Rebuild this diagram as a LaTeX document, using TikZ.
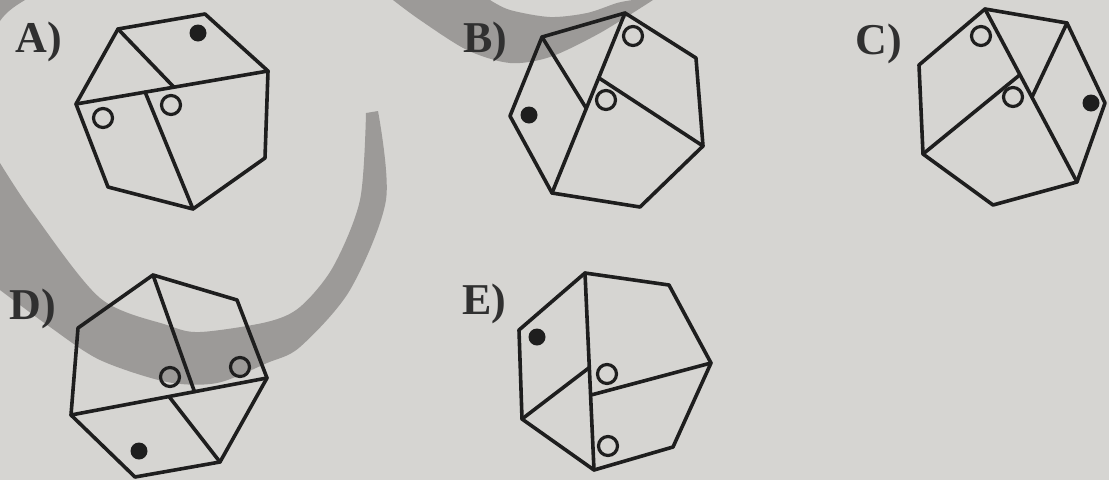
\documentclass[tikz,border=0pt]{standalone}
\usepackage{fontspec}
\setmainfont{Liberation Serif}
\usetikzlibrary{calc}
\definecolor{bg}{HTML}{D6D5D2}
\definecolor{band}{HTML}{9C9A98}
\definecolor{ink}{HTML}{1E1E1E}
\begin{document}
\begin{tikzpicture}[x=1pt,y=-1pt,
  edge/.style={draw=ink,line width=3.6pt,line join=round,line cap=round},
  opendot/.style={circle,draw=ink,line width=3.2pt,minimum size=19pt,inner sep=0pt},
  filldot/.style={circle,fill=ink,minimum size=17pt,inner sep=0pt},
  lbl/.style={font=\fontsize{44}{48}\selectfont\bfseries,text=ink!92,inner sep=0pt}]
\useasboundingbox (0,0) rectangle (1109,480);
\fill[bg] (0,0) rectangle (1109,480);
% watermark swoosh
\fill[band] plot[smooth] coordinates {(0,163) (33,213) (100,298) (167,325) (200,332) (267,322) (300,307) (333,267) (360,200) (366,113)}
  -- plot[smooth] coordinates {(378,111) (386,200) (350,290) (300,347) (267,363) (217,383) (167,382) (100,360) (50,327) (0,290)} -- cycle;
\fill[band] (0,0) -- (25,0) .. controls (15,6) and (6,12) .. (0,21) -- cycle;
\fill[band] plot[smooth] coordinates {(393,0) (420,20) (467,50) (510,63) (550,57) (600,33) (653,0)}
  -- plot[smooth] coordinates {(633,0) (617,3) (587,13) (550,17) (510,10) (490,0)} -- cycle;
% ---------- A
\coordinate (A1) at (118,29); \coordinate (A2) at (205,14); \coordinate (A3) at (268,71);
\coordinate (A4) at (265,158); \coordinate (A5) at (193,209); \coordinate (A6) at (108,187);
\coordinate (A7) at (76,104);
\coordinate (Ac) at ($(A7)!0.51!(A3)$); \coordinate (Ad) at ($(A7)!0.36!(A3)$);
\draw[edge] (A1)--(A2)--(A3)--(A4)--(A5)--(A6)--(A7)--cycle;
\draw[edge] (A1)--(Ac); \draw[edge] (A7)--(A3); \draw[edge] (Ad)--(A5);
\node[filldot] (Af) at (198,33) {};
\node[opendot] (Ao1) at (103,118) {};
\node[opendot] (Ao2) at (171,105) {};
\node[lbl] (LA) at (39,42) {A)};
% ---------- B
\coordinate (B1) at (542,37); \coordinate (B2) at (625,13); \coordinate (B3) at (696,58);
\coordinate (B4) at (703,146); \coordinate (B5) at (640,207); \coordinate (B6) at (552,193);
\coordinate (B7) at (510,116);
\coordinate (Bc) at ($(B2)!0.53!(B6)$); \coordinate (Bd) at ($(B2)!0.36!(B6)$);
\draw[edge] (B1)--(B2)--(B3)--(B4)--(B5)--(B6)--(B7)--cycle;
\draw[edge] (B2)--(B6); \draw[edge] (B1)--(Bc); \draw[edge] (Bd)--(B4);
\node[opendot] (Bo1) at (633,36) {};
\node[opendot] (Bo2) at (606,100) {};
\node[filldot] (Bf) at (529,115) {};
\node[lbl] (LB) at (485,42) {B)};
% ---------- C
\coordinate (C1) at (985,9); \coordinate (C2) at (1067,23); \coordinate (C3) at (1105,103);
\coordinate (C4) at (1077,182); \coordinate (C5) at (993,205); \coordinate (C6) at (923,154);
\coordinate (C7) at (919,65);
\coordinate (Cc) at ($(C1)!0.51!(C4)$); \coordinate (Cd) at ($(C1)!0.38!(C4)$);
\draw[edge] (C1)--(C2)--(C3)--(C4)--(C5)--(C6)--(C7)--cycle;
\draw[edge] (C1)--(C4); \draw[edge] (C2)--(Cc); \draw[edge] (C6)--(Cd);
\node[opendot] (Co1) at (981,36) {};
\node[opendot] (Co2) at (1013,97) {};
\node[filldot] (Cf) at (1091,103) {};
\node[lbl] (LC) at (879,44) {C)};
% ---------- D
\coordinate (D1) at (153,275); \coordinate (D2) at (237,300); \coordinate (D3) at (267,378);
\coordinate (D4) at (220,462); \coordinate (D5) at (135,477); \coordinate (D6) at (71,415);
\coordinate (D7) at (78,328);
\coordinate (Dc) at ($(D6)!0.63!(D3)$); \coordinate (Dd) at ($(D6)!0.50!(D3)$);
\draw[edge] (D1)--(D2)--(D3)--(D4)--(D5)--(D6)--(D7)--cycle;
\draw[edge] (D6)--(D3); \draw[edge] (D1)--(Dc); \draw[edge] (Dd)--(D4);
\node[opendot] (Do1) at (170,377) {};
\node[opendot] (Do2) at (240,367) {};
\node[filldot] (Df) at (139,451) {};
\node[lbl] (LD) at (33,309) {D)};
% ---------- E
\coordinate (E1) at (585,273); \coordinate (E2) at (669,285); \coordinate (E3) at (711,363);
\coordinate (E4) at (673,447); \coordinate (E5) at (594,470); \coordinate (E6) at (522,419);
\coordinate (E7) at (519,330);
\coordinate (Ec) at ($(E1)!0.48!(E5)$); \coordinate (Ed) at ($(E1)!0.62!(E5)$);
\draw[edge] (E1)--(E2)--(E3)--(E4)--(E5)--(E6)--(E7)--cycle;
\draw[edge] (E1)--(E5); \draw[edge] (E6)--(Ec); \draw[edge] (Ed)--(E3);
\node[opendot] (Eo1) at (607,374) {};
\node[opendot] (Eo2) at (608,446) {};
\node[filldot] (Ef) at (537,337) {};
\node[lbl] (LE) at (484,304) {E)};
\end{tikzpicture}
\end{document}
